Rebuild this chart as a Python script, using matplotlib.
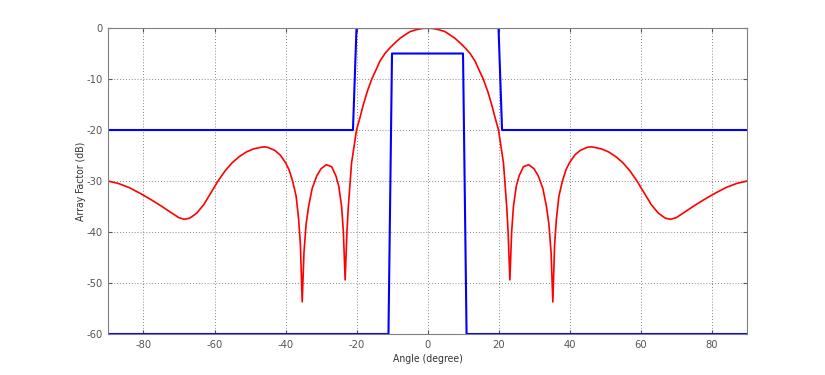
import matplotlib
matplotlib.use("Agg")
import matplotlib.pyplot as plt

plt.rcParams['font.family'] = ['DejaVu Sans']
plt.rcParams['font.stretch'] = 'condensed'
plt.rcParams['axes.unicode_minus'] = False

# Array factor (angle in degrees, level in dB)
af_angle = [-90, -87, -84, -81, -78, -75, -72, -70, -68.5, -67, -65, -63, -61, -59, -57,
            -55, -53, -51, -49, -47, -46, -45, -43, -41.5, -40, -39, -38, -37, -36.3,
            -35.8, -35.3, -34.8, -34.2, -33.5, -32.5, -31.2, -30, -28.5, -27, -25.8, -25,
            -24.2, -23.7, -23.2, -22.7, -22.3, -21.4, -20, -19, -18.1, -17, -15.7, -14.5,
            -13.4, -12, -10.6, -9, -7.7, -6, -4.9, -3, -1.6,
            0,
            1.6, 3, 4.9, 6, 7.7, 9, 10.6, 12, 13.4, 14.5, 15.7, 17, 18.1, 19, 20, 21.4,
            22.3, 22.7, 23.2, 23.7, 24.2, 25, 25.8, 27, 28.5, 30, 31.2, 32.5, 33.5, 34.2,
            34.8, 35.3, 35.8, 36.3, 37, 38, 39, 40, 41.5, 43, 45, 46, 47, 49, 51, 53, 55,
            57, 59, 61, 63, 65, 67, 68.5, 70, 72, 75, 78, 81, 84, 87, 90]
af_db = [-30.0, -30.5, -31.3, -32.4, -33.6, -34.9, -36.3, -37.2, -37.5, -37.3, -36.3, -34.6,
         -32.3, -30.0, -28.0, -26.4, -25.2, -24.3, -23.7, -23.4, -23.3, -23.4, -24.0, -24.9,
         -26.4, -27.8, -30.0, -33.0, -37.5, -42.5, -53.7, -44.0, -38.5, -35.0, -31.5, -29.0,
         -27.6, -26.8, -27.2, -29.0, -31.0, -35.0, -40.0, -49.4, -40.0, -35.0, -26.5, -20.0,
         -17.5, -15.1, -12.5, -10.0, -8.2, -6.5, -5.0, -3.9, -2.8, -2.0, -1.2, -0.7, -0.3,
         -0.1,
         0.0,
         -0.1, -0.3, -0.7, -1.2, -2.0, -2.8, -3.9, -5.0, -6.5, -8.2, -10.0, -12.5, -15.1,
         -17.5, -20.0, -26.5, -35.0, -40.0, -49.4, -40.0, -35.0, -31.0, -29.0, -27.2, -26.8,
         -27.6, -29.0, -31.5, -35.0, -38.5, -44.0, -53.7, -42.5, -37.5, -33.0, -30.0, -27.8,
         -26.4, -24.9, -24.0, -23.4, -23.3, -23.4, -23.7, -24.3, -25.2, -26.4, -28.0, -30.0,
         -32.3, -34.6, -36.3, -37.3, -37.5, -37.2, -36.3, -34.9, -33.6, -32.4, -31.3, -30.5,
         -30.0]

# Upper and lower masks
upper_angle = [-90, -21, -20, 20, 21, 90]
upper_db = [-20, -20, 0, 0, -20, -20]
lower_angle = [-90, -11, -10, 10, 11, 90]
lower_db = [-60, -60, -5, -5, -60, -60]

fig = plt.figure(figsize=(8.25, 3.75), dpi=100)
ax = fig.add_axes([0.1309, 0.1093, 0.7746, 0.816])

ax.plot(upper_angle, upper_db, color='#0000ff', linewidth=1.5)
ax.plot(lower_angle, lower_db, color='#0000ff', linewidth=1.5)
ax.plot(af_angle, af_db, color='#ff0000', linewidth=1.2, solid_joinstyle='round')

ax.set_xlim(-90, 90)
ax.set_ylim(-60, 0)
ax.set_xticks(range(-80, 81, 20))
ax.set_yticks(range(-60, 1, 10))
ax.grid(True, linestyle=(0, (1, 2.5)), color='#606060', linewidth=0.6)
ax.tick_params(direction='in', top=True, right=True, labelsize=8,
               colors='#555555', length=3, pad=4)
for s in ax.spines.values():
    s.set_color('#808080')
    s.set_linewidth(0.8)

ax.set_xlabel('Angle (degree)', fontsize=7.5, color='#333333', labelpad=3)
ax.set_ylabel('Array Factor (dB)', fontsize=7.5, color='#333333', labelpad=0)

fig.savefig('out.png', dpi=100)
